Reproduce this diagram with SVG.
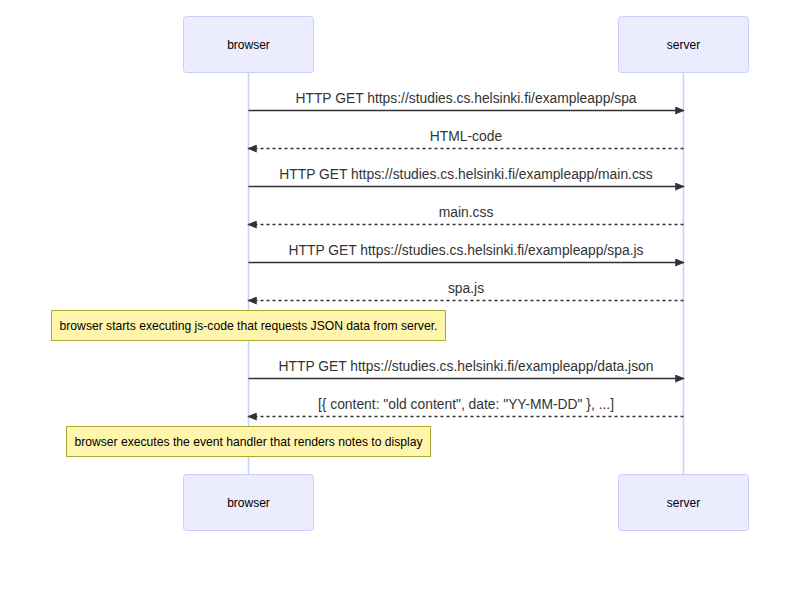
<svg xmlns="http://www.w3.org/2000/svg" width="800" height="600" viewBox="0 0 800 600">
<style>
.actor{fill:#ECECFF;stroke:#CCCCFF;stroke-width:1}
.atext{font-family:"Liberation Sans",Arial,sans-serif;font-size:12px;fill:#000;text-anchor:middle;dominant-baseline:central}
.life{stroke:#CCCCFF;stroke-width:1.5}
.msg{stroke:#333;stroke-width:1.5;fill:none}
.dash{stroke-dasharray:3,3}
.mtext{font-family:"Liberation Sans",Arial,sans-serif;font-size:13.85px;fill:#333;text-anchor:middle}
.note{fill:#fff5ad;stroke:#aaaa33;stroke-width:1}
.ntext{font-family:"Liberation Sans",Arial,sans-serif;font-size:12.15px;fill:#000;text-anchor:middle;dominant-baseline:central}
</style>
<defs>
<marker id="arrow" viewBox="0 0 12 10" refX="11" refY="5" markerWidth="10" markerHeight="8" markerUnits="userSpaceOnUse" orient="auto">
<path d="M0,0 L12,5 L0,10 z" fill="#333"/>
</marker>
</defs>
<rect width="800" height="600" fill="#fff"/>
<g id="lifelines">
<line class="life" x1="248.5" y1="72" x2="248.5" y2="474"/>
<line class="life" x1="683.5" y1="72" x2="683.5" y2="474"/>
</g>
<g id="browser">
<rect class="actor" x="183.5" y="16.5" width="130" height="56" rx="3"/>
<text class="atext" x="248.5" y="44.5">browser</text>
</g>
<g id="server">
<rect class="actor" x="618.5" y="16.5" width="130" height="56" rx="3"/>
<text class="atext" x="683.5" y="44.5">server</text>
</g>
<g id="browser-bottom">
<rect class="actor" x="183.5" y="474.5" width="130" height="56" rx="3"/>
<text class="atext" x="248.5" y="502.5">browser</text>
</g>
<g id="server-bottom">
<rect class="actor" x="618.5" y="474.5" width="130" height="56" rx="3"/>
<text class="atext" x="683.5" y="502.5">server</text>
</g>
<g id="connectors">
<line class="msg" x1="248.5" y1="110.5" x2="684" y2="110.5" marker-end="url(#arrow)"/>
<text class="mtext" x="466" y="103">HTTP GET https://studies.cs.helsinki.fi/exampleapp/spa</text>
<line class="msg dash" x1="683.5" y1="148.5" x2="248" y2="148.5" marker-end="url(#arrow)"/>
<text class="mtext" x="466" y="141">HTML-code</text>
<line class="msg" x1="248.5" y1="186.5" x2="684" y2="186.5" marker-end="url(#arrow)"/>
<text class="mtext" x="466" y="179">HTTP GET https://studies.cs.helsinki.fi/exampleapp/main.css</text>
<line class="msg dash" x1="683.5" y1="224.5" x2="248" y2="224.5" marker-end="url(#arrow)"/>
<text class="mtext" x="466" y="217">main.css</text>
<line class="msg" x1="248.5" y1="262.5" x2="684" y2="262.5" marker-end="url(#arrow)"/>
<text class="mtext" x="466" y="255">HTTP GET https://studies.cs.helsinki.fi/exampleapp/spa.js</text>
<line class="msg dash" x1="683.5" y1="300.5" x2="248" y2="300.5" marker-end="url(#arrow)"/>
<text class="mtext" x="466" y="293">spa.js</text>
<line class="msg" x1="248.5" y1="378.5" x2="684" y2="378.5" marker-end="url(#arrow)"/>
<text class="mtext" x="466" y="371">HTTP GET https://studies.cs.helsinki.fi/exampleapp/data.json</text>
<line class="msg dash" x1="683.5" y1="416.5" x2="248" y2="416.5" marker-end="url(#arrow)"/>
<text class="mtext" x="466" y="409">[{ content: "old content", date: "YY-MM-DD" }, ...]</text>
</g>
<g id="note1">
<rect class="note" x="51.5" y="310.5" width="394" height="30"/>
<text class="ntext" x="248.5" y="325.5">browser starts executing js-code that requests JSON data from server.</text>
</g>
<g id="note2">
<rect class="note" x="66.5" y="426.5" width="364" height="30"/>
<text class="ntext" x="248.5" y="441.5">browser executes the event handler that renders notes to display</text>
</g>
</svg>
